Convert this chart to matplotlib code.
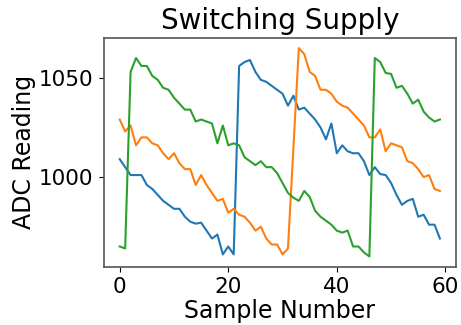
import numpy as np
import matplotlib
matplotlib.use('Agg')
import matplotlib.pyplot as plt
from matplotlib.ticker import MultipleLocator

# leituras do ADC (3 canais), 60 amostras
canal_a = [1009, 1005, 1001, 1001, 1001, 996, 994, 991, 988, 986,
           984, 984, 980, 977.5, 976.5, 977, 973, 969, 971, 961,
           965, 961, 1056, 1058, 1059, 1053, 1049, 1048, 1046, 1044,
           1042, 1036, 1041, 1034, 1035, 1032, 1029, 1025, 1019, 1027,
           1012, 1016, 1013, 1012, 1012, 1008, 1001, 1005, 1001.5, 1001,
           997, 991, 986, 988, 989, 980, 981, 976, 976, 969]
canal_b = [1029, 1023, 1026, 1016, 1020, 1020, 1017, 1016, 1012, 1009,
           1012, 1007, 1004, 1004, 996, 1001, 996, 992, 988, 989,
           982, 984, 981, 980, 977, 973, 975, 969, 966, 966,
           961, 964, 1014.5, 1065, 1062, 1053, 1051, 1044, 1044, 1042,
           1038, 1036, 1035, 1032, 1029, 1026, 1020, 1020, 1024, 1013,
           1017, 1016, 1015, 1008, 1007, 1004, 1000, 1001, 994, 993]
canal_c = [965, 964, 1053, 1060, 1056, 1056, 1051, 1049, 1045, 1044,
           1040, 1037, 1034, 1034, 1028, 1029, 1028, 1027, 1017, 1026,
           1016, 1017, 1016, 1010, 1008, 1006, 1008, 1005, 1005, 1002,
           997, 992, 989.6, 988, 993, 990, 983, 980, 978, 976,
           973, 972, 973, 965, 965, 962, 960, 1060, 1058, 1052.5,
           1052, 1045, 1046, 1042, 1037, 1039, 1033, 1030, 1028, 1029]

amostras = np.arange(len(canal_a))

fig = plt.figure(figsize=(4.61, 3.25), dpi=100)
ax = fig.add_axes([0.225, 0.179, 0.764, 0.705])
ax.plot(amostras, canal_a)
ax.plot(amostras, canal_b)
ax.plot(amostras, canal_c)

ax.set_title('Switching Supply', fontsize=20)
ax.set_xlabel('Sample Number', fontsize=17, labelpad=1)
ax.set_ylabel('ADC Reading', fontsize=17, labelpad=2)
ax.yaxis.set_major_locator(MultipleLocator(50))
ax.tick_params(labelsize=15.5, pad=4)
for s in ax.spines.values():
    s.set_color('#555555')
    s.set_linewidth(1.2)

plt.savefig('out.png', dpi=100)
